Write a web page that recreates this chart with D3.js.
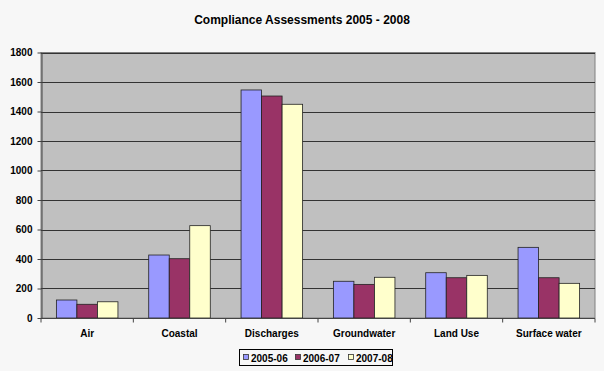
<!DOCTYPE html>
<html><head><meta charset="utf-8">
<script src="https://cdn.jsdelivr.net/npm/d3@7"></script>
<style>
body{margin:0;background:#f7f7f7;}
svg{display:block;font-family:Arial,"Liberation Sans",sans-serif;}
</style></head>
<body><svg id="c" width="604" height="371"></svg>
<script>
const categories = ["Air","Coastal","Discharges","Groundwater","Land Use","Surface water"];
const seriesNames = ["2005-06","2006-07","2007-08"];
const s2005 = [122, 427, 1546, 249, 307, 479];
const s2006 = [93, 402, 1505, 228, 273, 273];
const s2007 = [110, 626, 1449, 276, 289, 235];
const yTicks = [0,200,400,600,800,1000,1200,1400,1600,1800];
const colors = ["#9999ff","#993366","#ffffcc"];
const series = [s2005, s2006, s2007];

const svg = d3.select("#c");
const L = 41, R = 595, T = 52.5, B = 318;

svg.append("text").attr("x", 302).attr("y", 24).attr("text-anchor","middle")
  .attr("font-size", 12).attr("font-weight","bold").attr("fill","#000")
  .text("Compliance Assessments 2005 - 2008");

const x = d3.scaleBand().domain(categories).range([L, R]).paddingInner(0).paddingOuter(0);
const y = d3.scaleLinear().domain([0, 1800]).range([B, T]);
const barW = x.bandwidth() / 4.5;
const xs = d3.scaleBand().domain(d3.range(3))
  .range([(x.bandwidth() - 3 * barW) / 2, (x.bandwidth() + 3 * barW) / 2]).padding(0);

svg.append("rect").attr("x", L).attr("y", T).attr("width", R - L).attr("height", B - T)
  .attr("fill", "#c0c0c0").attr("stroke", "#808080").attr("stroke-width", 1);

svg.append("g").selectAll("line").data(yTicks.filter(d => d > 0)).join("line")
  .attr("x1", L).attr("x2", R).attr("y1", d => Math.round(y(d)) + 0.5).attr("y2", d => Math.round(y(d)) + 0.5)
  .attr("stroke", "#333").attr("stroke-width", 1);

// bars
const groups = svg.append("g").selectAll("g").data(categories).join("g")
  .attr("transform", c => `translate(${x(c)},0)`);
groups.selectAll("rect").data((c, i) => series.map((s, k) => ({k, v: s[i]}))).join("rect")
  .attr("x", d => xs(d.k)).attr("width", xs.bandwidth())
  .attr("y", d => y(d.v)).attr("height", d => B - y(d.v))
  .attr("fill", d => colors[d.k]).attr("stroke", "#222").attr("stroke-width", 0.8);

// y axis
const yAxis = d3.axisLeft(y).tickValues(yTicks).tickFormat(d3.format("d")).tickSize(4).tickSizeOuter(0);
const ya = svg.append("g").attr("transform", `translate(${L + 0.5},0)`).call(yAxis);
ya.select(".domain").attr("stroke", "#444");
ya.selectAll(".tick line").attr("stroke", "#444");
ya.selectAll(".tick text").attr("font-size", 10).attr("font-weight", "bold").attr("fill", "#000")
  .attr("font-family", "Arial, Liberation Sans, sans-serif").attr("dx", -2);

// x axis
const xa = svg.append("g").attr("transform", `translate(0,${B + 0.5})`);
xa.append("line").attr("x1", L).attr("x2", R).attr("stroke", "#444");
xa.selectAll("line.t").data(d3.range(categories.length + 1)).join("line").attr("class","t")
  .attr("x1", i => L + i * x.bandwidth()).attr("x2", i => L + i * x.bandwidth())
  .attr("y1", 0).attr("y2", 4).attr("stroke", "#444");
xa.selectAll("text").data(categories).join("text")
  .attr("x", c => x(c) + x.bandwidth() / 2).attr("y", 18.5).attr("text-anchor", "middle")
  .attr("font-size", 10).attr("font-weight", "bold").attr("fill", "#000").text(c => c);

// legend
const lg = svg.append("g");
lg.append("rect").attr("x", 239.5).attr("y", 349.5).attr("width", 153).attr("height", 16)
  .attr("fill", "#f7f7f7").attr("stroke", "#000");
const lx = [243, 295, 348];
seriesNames.forEach((n, i) => {
  lg.append("rect").attr("x", lx[i] + 0.5).attr("y", 354.5).attr("width", 5).attr("height", 5)
    .attr("fill", colors[i]).attr("stroke", "#333").attr("stroke-width", 0.8);
  lg.append("text").attr("x", lx[i] + 8).attr("y", 361.5).attr("font-size", 10).attr("font-weight", "bold")
    .attr("fill", "#000").text(n);
});
</script></body></html>
